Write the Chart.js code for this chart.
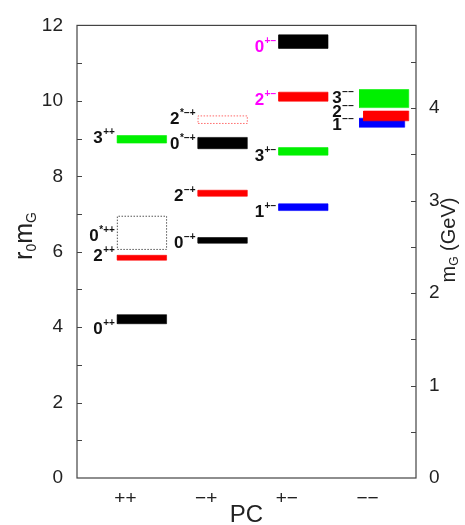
<!DOCTYPE html>
<html><head><meta charset="utf-8">
<script src="https://cdn.jsdelivr.net/npm/chart.js@4.4.1/dist/chart.umd.min.js"></script>
<style>html,body{margin:0;padding:0;background:#fff}#wrap{width:465px;height:525px}</style>
</head><body><div id="wrap"><canvas id="c" width="465" height="525"></canvas></div>
<script>
// ---------------- data ----------------
const pcCategories = ['++', '\u2212+', '+\u2212', '\u2212\u2212'];
const yTickLabels = [0, 2, 4, 6, 8, 10, 12];
const gevTickLabels = [0, 1, 2, 3, 4];
const stateSpin  = ['0', '2', '0', '3',   '0', '2', '0', '2',   '1', '3', '2', '0',   '3', '1', '2'];
const stateSuper = ['++', '++', '*++', '++',
                    '\u2212+', '\u2212+', '*\u2212+', '*\u2212+',
                    '+\u2212', '+\u2212', '+\u2212', '+\u2212',
                    '\u2212\u2212', '\u2212\u2212', '\u2212\u2212'];
const statePC   = [1, 1, 1, 1,   2, 2, 2, 2,   3, 3, 3, 3,   4, 4, 4];
const stateMass = [4.21, 5.84, 6.50, 8.98,   6.30, 7.55, 8.88, 9.50,   7.18, 8.66, 10.11, 11.57,   10.06, 9.42, 9.60];
const stateErr  = [0.12, 0.065, 0.44, 0.10,  0.075, 0.08, 0.15, 0.10,  0.09, 0.10, 0.12, 0.18,     0.24, 0.12, 0.13];
const r0InvGeV = 0.408; // GeV per unit of r0*m

// ---------------- styles ----------------
const GREEN = '#00f000', RED = '#ff0000', BLUE = '#0000ff', BLACK = '#000000', MAG = '#ff00ff';
const stateColor = [BLACK, RED, '#555555', GREEN,   BLACK, RED, BLACK, '#ff6a6a',   BLUE, GREEN, RED, BLACK,   GREEN, BLUE, RED];
const stateDotted = [false, false, true, false,  false, false, false, true,  false, false, false, false,  false, false, false];
const labelColor = stateMass.map((_, i) => (i === 10 || i === 11) ? MAG : '#111');
const xSpan = stateMass.map((_, i) => i === 13 ? [-0.1, 0.46] : (i === 14 ? [-0.05, 0.51] : [-0.1, 0.51]));
const labelDy = [15, 3, 8, 4,   8, 8, 6, 4,   10, 10, 8, 10,   4, 7, 1];
const FONT = '"Liberation Sans", Arial, Helvetica, sans-serif';

const N = stateMass.length;
const datasets = stateMass.map((m, i) => {
  const k = statePC[i];
  const a = k + xSpan[i][0], b = k + xSpan[i][1];
  const lo = m - stateErr[i], hi = m + stateErr[i];
  const dotted = stateDotted[i];
  return {
    data: [{x: a, y: lo}, {x: b, y: lo}, {x: b, y: hi}, {x: a, y: hi}, {x: a, y: lo}],
    showLine: true, pointRadius: 0, pointHoverRadius: 0, tension: 0,
    borderColor: stateColor[i], backgroundColor: stateColor[i],
    borderWidth: dotted ? 1 : 0.6, borderDash: dotted ? [1.5, 1.5] : [],
    fill: dotted ? false : 'shape',
    order: N - i, xAxisID: 'x', yAxisID: 'y'
  };
});

const framePlugin = {
  id: 'frame',
  afterDraw(chart) {
    const ctx = chart.ctx, ca = chart.chartArea;
    const y = chart.scales.y, y2 = chart.scales.y2;
    ctx.save();
    ctx.strokeStyle = '#444'; ctx.lineWidth = 1.2;
    ctx.strokeRect(ca.left, ca.top, ca.right - ca.left, ca.bottom - ca.top);
    ctx.lineWidth = 1;
    ctx.beginPath();
    for (let v = 1; v < 12; v++) {
      const py = Math.round(y.getPixelForValue(v)) + 0.5;
      ctx.moveTo(ca.left, py); ctx.lineTo(ca.left + 5, py);
    }
    for (let v = 0.5; v < y2.max; v += 0.5) {
      const py = Math.round(y2.getPixelForValue(v)) + 0.5;
      ctx.moveTo(ca.right, py); ctx.lineTo(ca.right - 5, py);
    }
    ctx.stroke();
    ctx.restore();
  }
};

const labelPlugin = {
  id: 'stateLabels',
  afterDatasetsDraw(chart) {
    const ctx = chart.ctx, x = chart.scales.x, y = chart.scales.y;
    ctx.save();
    ctx.textBaseline = 'alphabetic';
    for (let i = 0; i < N; i++) {
      const k = statePC[i];
      const right = x.getPixelForValue(k - 0.1) - (k === 4 ? 6 : 3);
      const base = y.getPixelForValue(stateMass[i]) + labelDy[i];
      ctx.font = 'bold 10px ' + FONT;
      const wSup = ctx.measureText(stateSuper[i]).width;
      ctx.font = 'bold 17px ' + FONT;
      const wMain = ctx.measureText(stateSpin[i]).width;
      const left = right - wSup - wMain;
      ctx.fillStyle = labelColor[i];
      ctx.textAlign = 'left';
      ctx.fillText(stateSpin[i], left, base);
      ctx.font = 'bold 10px ' + FONT;
      ctx.fillText(stateSuper[i], left + wMain + 0.5, base - 8);
    }
    ctx.restore();
  }
};

const titlePlugin = {
  id: 'titles',
  afterDraw(chart) {
    const ctx = chart.ctx, ca = chart.chartArea;
    ctx.save();
    ctx.fillStyle = '#222';
    ctx.font = '24px ' + FONT; ctx.textAlign = 'center'; ctx.textBaseline = 'alphabetic';
    ctx.fillText('PC', (ca.left + ca.right) / 2, 522);
    const drawRot = (cx, cy, parts) => {
      ctx.save();
      ctx.translate(cx, cy); ctx.rotate(-Math.PI / 2);
      let total = 0;
      parts.forEach(p => { ctx.font = p.size + 'px ' + FONT; p.w = ctx.measureText(p.t).width; total += p.w; });
      let px = -total / 2;
      ctx.textAlign = 'left'; ctx.textBaseline = 'alphabetic';
      parts.forEach(p => { ctx.font = p.size + 'px ' + FONT; ctx.fillText(p.t, px, p.dy); px += p.w; });
      ctx.restore();
    };
    drawRot(32, 236, [{t: 'r', size: 25, dy: 0}, {t: '0', size: 14, dy: 4}, {t: 'm', size: 25, dy: 0}, {t: 'G', size: 14, dy: 4}]);
    drawRot(455, 240, [{t: 'm', size: 20, dy: 0}, {t: 'G', size: 12, dy: 3}, {t: ' (GeV)', size: 20, dy: 0}]);
    ctx.restore();
  }
};

new Chart(document.getElementById('c'), {
  type: 'scatter',
  data: { datasets },
  options: {
    responsive: false, animation: false, events: [],
    layout: { padding: { top: 19, left: 0, right: 0, bottom: 0 } },
    plugins: { legend: { display: false }, tooltip: { enabled: false } },
    scales: {
      x: {
        type: 'linear', position: 'bottom', min: 0.4, max: 4.6,
        grid: { display: false, drawTicks: false }, border: { display: false },
        afterBuildTicks: s => { s.ticks = [1, 2, 3, 4].map(v => ({value: v})); },
        afterFit: s => { s.height = 47; },
        ticks: { padding: 9, color: '#222', font: { family: FONT, size: 19 }, maxRotation: 0,
                 callback: v => pcCategories[Math.round(v) - 1] }
      },
      y: {
        type: 'linear', position: 'left', min: 0, max: 12,
        grid: { display: false, drawTicks: false }, border: { display: false },
        afterBuildTicks: s => { s.ticks = yTickLabels.map(v => ({value: v})); },
        afterFit: s => { s.width = 77; },
        ticks: { padding: 14, color: '#222', font: { family: FONT, size: 19 } }
      },
      y2: {
        type: 'linear', position: 'right', min: 0, max: 12 * r0InvGeV,
        grid: { display: false, drawTicks: false }, border: { display: false },
        afterBuildTicks: s => { s.ticks = gevTickLabels.map(v => ({value: v})); },
        afterFit: s => { s.width = 49; },
        ticks: { padding: 13, color: '#222', font: { family: FONT, size: 19 } }
      }
    }
  },
  plugins: [framePlugin, labelPlugin, titlePlugin]
});
</script>
</body></html>
